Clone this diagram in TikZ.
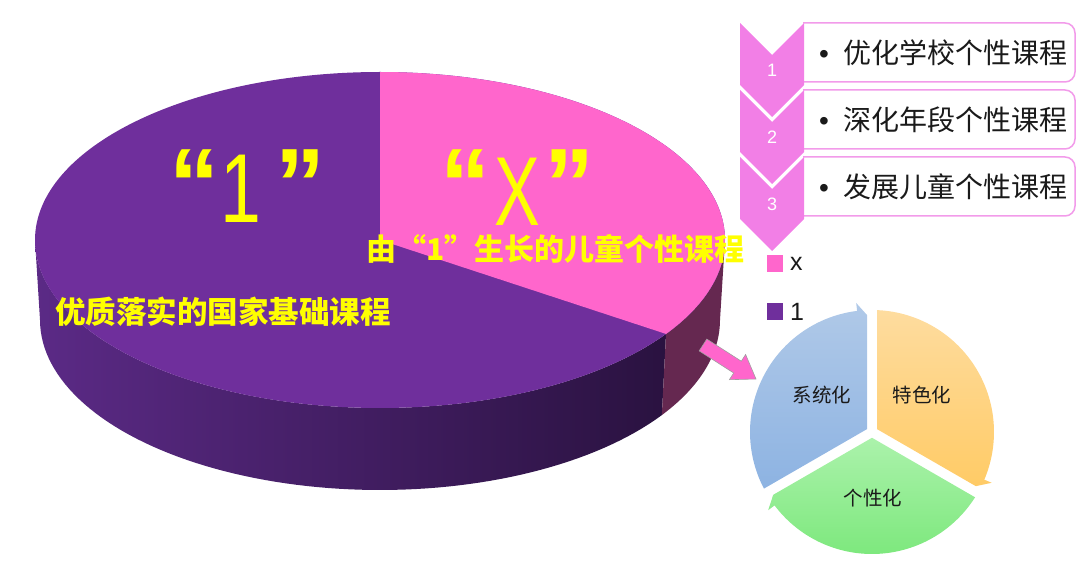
\documentclass[tikz,border=0pt]{standalone}
\usepackage{fontspec}
\usepackage{graphicx}
\setmainfont{Liberation Sans}
\newfontfamily\cjk{Noto Sans CJK SC}
\newfontfamily\lat{Liberation Sans}
\usetikzlibrary{calc}
\definecolor{piepurple}{HTML}{6F2F9C}
\definecolor{piepink}{HTML}{FF66CC}
\definecolor{sideL}{HTML}{5B2A86}
\definecolor{sideR}{HTML}{2A1240}
\definecolor{sidepink}{HTML}{652850}
\definecolor{yel}{HTML}{FFFF00}
\definecolor{chev}{HTML}{F27FE6}
\definecolor{boxline}{HTML}{F29BEA}
\definecolor{bluetop}{HTML}{B0C9E8}
\definecolor{bluebot}{HTML}{8DB3E2}
\definecolor{orgtop}{HTML}{FEDC9F}
\definecolor{orgbot}{HTML}{FFCB66}
\definecolor{grntop}{HTML}{ABF2AB}
\definecolor{grnbot}{HTML}{7DE87D}
\definecolor{arrowgray}{HTML}{A0A0A0}
\definecolor{txt}{HTML}{1A1A1A}
\tikzset{
  yellabel/.style={text=yel, inner sep=0, anchor=west},
  bigq/.style={text=yel, inner sep=0, anchor=base, font=\lat\bfseries\fontsize{100}{100}\selectfont},
  bigd/.style={text=yel, inner sep=0, anchor=base, font=\lat\fontsize{98}{98}\selectfont},
  chevron/.style={fill=chev},
  itembox/.style={draw=boxline, line width=1.5pt},
  itemtext/.style={text=txt, inner sep=0, anchor=west, font=\cjk\fontsize{28}{28}\selectfont},
  chevnum/.style={text=white, inner sep=0, font=\lat\fontsize{18}{18}\selectfont},
  cyclabel/.style={text=txt, inner sep=0, font=\cjk\fontsize{19.5}{19.5}\selectfont},
  legtext/.style={text=txt, inner sep=0, anchor=west, font=\lat\fontsize{25}{25}\selectfont}
}
\begin{document}
\begin{tikzpicture}[x=1pt,y=-1pt]
\useasboundingbox (0,0) rectangle (1080,577);
% ---- 3D pie: side ----
\shade[left color=sideL, right color=sideR]
  plot[domain=180:326, samples=80] ({380+345*cos(\x)},{240-168*sin(\x)})
  -- plot[domain=326:180, samples=80] ({380+340*cos(\x)},{320-170*sin(\x)}) -- cycle;
\fill[sidepink]
  plot[domain=326:360, samples=30] ({380+345*cos(\x)},{240-168*sin(\x)})
  -- plot[domain=360:326, samples=30] ({380+340*cos(\x)},{320-170*sin(\x)}) -- cycle;
% ---- top face ----
\fill[piepurple] (380,240) ellipse[x radius=345, y radius=168];
\fill[piepink] (380,240) -- plot[domain=90:-34, samples=80] ({380+345*cos(\x)},{240-168*sin(\x)}) -- cycle;
% ---- pie labels ----
\node[bigq] (q1l) at (194,219) {“};
\node[bigd] (one) at (241,223) {\scalebox{0.75}[1]{1}};
\node[bigq] (q1r) at (300,219) {”};
\node[bigq] (qxl) at (465,219) {“};
\node[bigd] (xx) at (517,226) {\scalebox{0.7}[1]{X}};
\node[bigq] (qxr) at (569,219) {”};
\node[yellabel, font=\cjk\bfseries\fontsize{30}{30}\selectfont] (xlabel) at (366,249) {由“1”生长的儿童个性课程};
\node[yellabel, font=\cjk\bfseries\fontsize{30.5}{30.5}\selectfont] (onelabel) at (55,312) {优质落实的国家基础课程};
% ---- list with chevrons ----
\foreach \k/\t in {0/优化学校个性课程,1/深化年段个性课程,2/发展儿童个性课程}{
  \pgfmathsetmacro{\dy}{67*\k}
  \fill[white, rounded corners=10] (803,{23+\dy}) -- (1075,{23+\dy}) -- (1075,{82+\dy}) -- (803,{82+\dy}) -- cycle;
  \draw[itembox, rounded corners=10] (803,{23+\dy}) -- (1075,{23+\dy}) -- (1075,{82+\dy}) -- (803,{82+\dy});
  \fill[chevron] (740,{23+\dy}) -- (772,{55+\dy}) -- (804,{23+\dy}) -- (804,{85+\dy}) -- (772,{117+\dy}) -- (740,{85+\dy}) -- cycle;
  \pgfmathtruncatemacro{\num}{\k+1}
  \node[chevnum] (num\k) at (772,{70+\dy}) {\num};
  \node[itemtext] (item\k) at (819,{53+\dy}) {{\lat •}\hspace{14pt}\t};
}
% ---- legend ----
\fill[piepink] (767,255) rectangle (783,272);
\node[legtext] (legx) at (790,264) {x};
\fill[piepurple] (767,303) rectangle (783,320);
\node[legtext] (leg1) at (790,312) {1};
% ---- pink block arrow ----
\fill[piepink, draw=arrowgray, line width=0.6pt]
  (699.2,350.9) -- (706.8,339.1) -- (741.3,361.2) -- (745.6,354.5) -- (756,379) -- (729.4,379.7) -- (733.7,373.0) -- cycle;
% ---- cycle diagram ----
\begin{scope}[shift={(872,432)}, y=1pt]
  \shade[top color=bluetop, bottom color=bluebot]
    (150:5.77) -- (207.65:122) arc[start angle=207.65, end angle=97, radius=122] -- (97:130) -- (92.45:117.1) -- cycle;
  \shade[top color=orgtop, bottom color=orgbot]
    (30:5.77) -- (87.65:122) arc[start angle=87.65, end angle=-23, radius=122] -- (-23:130) -- (-27.55:117.1) -- cycle;
  \shade[top color=grntop, bottom color=grnbot]
    (270:5.77) -- (327.65:122) arc[start angle=327.65, end angle=217, radius=122] -- (217:130) -- (212.45:117.1) -- cycle;
\end{scope}
\node[cyclabel] (sys) at (822,395) {系统化};
\node[cyclabel] (tese) at (922,395) {特色化};
\node[cyclabel] (gex) at (873,498) {个性化};
\end{tikzpicture}
\end{document}
